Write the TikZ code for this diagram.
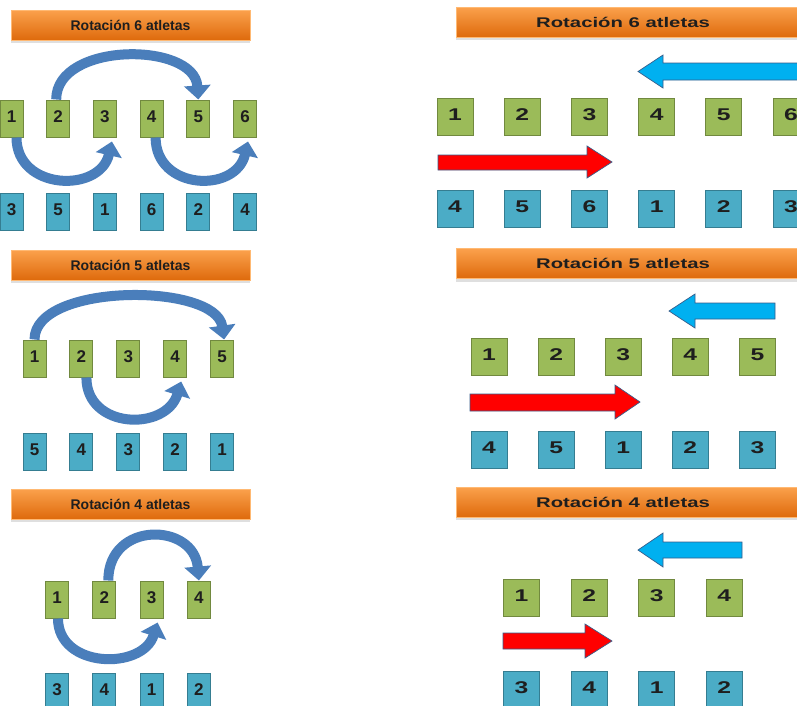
\documentclass[tikz,border=0pt]{standalone}
\usepackage{fontspec}
\setmainfont{Liberation Sans}
\usetikzlibrary{arrows.meta,shadows}
\definecolor{gfill}{HTML}{9BBB59}
\definecolor{gline}{HTML}{71893F}
\definecolor{bfill}{HTML}{4BACC6}
\definecolor{bline}{HTML}{357D91}
\definecolor{arcc}{HTML}{4A7EBB}
\definecolor{cyanarr}{HTML}{00B0F0}
\definecolor{redarr}{HTML}{FF0000}
\definecolor{outl}{HTML}{385D8A}
\definecolor{otop}{HTML}{FBA14C}
\definecolor{obot}{HTML}{DE6A0C}
\definecolor{txt}{HTML}{1E1E1E}
\begin{document}
\begin{tikzpicture}[x=1pt,y=-1pt,
  boxbase/.style={line width=1pt, inner sep=0pt, minimum height=37pt,
    font=\fontsize{17}{17}\selectfont\bfseries, text=txt},
  gbox/.style={boxbase, draw=gline, fill=gfill, minimum width=23pt},
  bbox/.style={boxbase, draw=bline, fill=bfill, minimum width=23pt},
  gboxR/.style={boxbase, draw=gline, fill=gfill, minimum width=36pt},
  bboxR/.style={boxbase, draw=bline, fill=bfill, minimum width=36pt},
  titlebox/.style={top color=otop, bottom color=obot, draw=orange!55, line width=0.6pt,
    minimum height=30pt, inner sep=0pt, font=\fontsize{14}{14}\selectfont\bfseries, text=txt,
    drop shadow={shadow xshift=0pt, shadow yshift=-3pt, opacity=0.25}},
  carrow/.style={draw=arcc, line width=10pt, -{Triangle[length=14pt,width=26pt]}},
  blockc/.style={fill=cyanarr, draw=outl, line width=0.7pt},
  blockr/.style={fill=redarr, draw=outl, line width=0.7pt}]
\clip (0,0) rectangle (797,705);
\fill[white] (0,0) rectangle (797,705);

% ---------- left titles ----------
\node[titlebox, minimum width=239pt] (tL1) at (130.5,25) {Rotación 6 atletas};
\node[titlebox, minimum width=239pt] (tL2) at (130.5,265) {Rotación 5 atletas};
\node[titlebox, minimum width=239pt] (tL3) at (130.5,504) {Rotación 4 atletas};

% ---------- right titles ----------
\node[titlebox, minimum width=349pt] (tR1) at (630.5,22) {\hspace*{-15pt}\scalebox{1.45}[1]{Rotación 6 atletas}};
\node[titlebox, minimum width=349pt] (tR2) at (630.5,263.5) {\hspace*{-15pt}\scalebox{1.45}[1]{Rotación 5 atletas}};
\node[titlebox, minimum width=349pt] (tR3) at (630.5,502) {\hspace*{-15pt}\scalebox{1.45}[1]{Rotación 4 atletas}};

% ---------- left: 6 athletes ----------
\foreach \t [count=\i] in {1,2,3,4,5,6}
  \node[gbox] (a\i) at ({11.5+46.7*(\i-1)},118.5) {\raisebox{4pt}{\t}};
\foreach \t [count=\i] in {3,5,1,6,2,4}
  \node[bbox] (A\i) at ({11.5+46.7*(\i-1)},211.5) {\raisebox{4pt}{\t}};
\draw[carrow] ([xshift=-2pt]a2.north) .. controls +(0,-58) and +(-4,-58) .. (a5.north);
\draw[carrow] ([xshift=5pt]a1.south) .. controls +(0,53) and +(-12,52) .. ([xshift=7pt,yshift=-4pt]a3.south);
\draw[carrow] ([xshift=4pt]a4.south) .. controls +(0,53) and +(-12,52) .. ([xshift=3pt,yshift=-4pt]a6.south);

% ---------- left: 5 athletes ----------
\foreach \t [count=\i] in {1,2,3,4,5}
  \node[gbox] (b\i) at ({34.5+46.9*(\i-1)},358.5) {\raisebox{4pt}{\t}};
\foreach \t [count=\i] in {5,4,3,2,1}
  \node[bbox] (B\i) at ({34.5+46.9*(\i-1)},451.5) {\raisebox{4pt}{\t}};
\draw[carrow] (b1.north) .. controls +(0,-57) and +(-8,-57) .. ([xshift=2pt]b5.north);
\draw[carrow] ([xshift=5pt]b2.south) .. controls +(0,52) and +(-15,50) .. ([xshift=6pt,yshift=-4pt]b4.south);

% ---------- left: 4 athletes ----------
\foreach \t [count=\i] in {1,2,3,4}
  \node[gbox] (c\i) at ({57+47.3*(\i-1)},599.5) {\raisebox{4pt}{\t}};
\foreach \t [count=\i] in {3,4,1,2}
  \node[bbox] (C\i) at ({57+47.3*(\i-1)},691.5) {\raisebox{4pt}{\t}};
\draw[carrow] ([xshift=4pt]c2.north) .. controls +(0,-60) and +(-5,-58) .. (c4.north);
\draw[carrow] ([xshift=1pt]c1.south) .. controls +(0,50) and +(-15,48) .. ([xshift=6pt,yshift=-4pt]c3.south);

% ---------- right: 6 athletes ----------
\draw[blockc] (805,63) -- (663,63) -- (663,55) -- (638,71.5) -- (663,88) -- (663,80) -- (805,80) -- cycle;
\foreach \t [count=\i] in {1,2,3,4,5,6}
  \node[gboxR] (d\i) at ({455+67.2*(\i-1)},116.5) {\raisebox{4pt}{\scalebox{1.45}[1]{\t}}};
\draw[blockr] (438,155) -- (587,155) -- (587,146) -- (612,162) -- (587,178) -- (587,170) -- (438,170) -- cycle;
\foreach \t [count=\i] in {4,5,6,1,2,3}
  \node[bboxR] (D\i) at ({455+67.2*(\i-1)},208.5) {\raisebox{4pt}{\scalebox{1.45}[1]{\t}}};

% ---------- right: 5 athletes ----------
\draw[blockc] (775,303) -- (695,303) -- (695,294) -- (669,311) -- (695,328) -- (695,319) -- (775,319) -- cycle;
\foreach \t [count=\i] in {1,2,3,4,5}
  \node[gboxR] (e\i) at ({489+67.1*(\i-1)},357) {\raisebox{4pt}{\scalebox{1.45}[1]{\t}}};
\draw[blockr] (470,394) -- (615,394) -- (615,385) -- (640,402) -- (615,419) -- (615,411) -- (470,411) -- cycle;
\foreach \t [count=\i] in {4,5,1,2,3}
  \node[bboxR] (E\i) at ({489+67.1*(\i-1)},449.5) {\raisebox{4pt}{\scalebox{1.45}[1]{\t}}};

% ---------- right: 4 athletes ----------
\draw[blockc] (742,542) -- (663,542) -- (663,533) -- (638,550) -- (663,567) -- (663,558) -- (742,558) -- cycle;
\foreach \t [count=\i] in {1,2,3,4}
  \node[gboxR] (f\i) at ({521.5+67.6*(\i-1)},597.5) {\raisebox{4pt}{\scalebox{1.45}[1]{\t}}};
\draw[blockr] (503,633) -- (585,633) -- (585,624) -- (612,641) -- (585,658) -- (585,649) -- (503,649) -- cycle;
\foreach \t [count=\i] in {3,4,1,2}
  \node[bboxR] (F\i) at ({521.5+67.6*(\i-1)},689.5) {\raisebox{4pt}{\scalebox{1.45}[1]{\t}}};
\end{tikzpicture}
\end{document}
